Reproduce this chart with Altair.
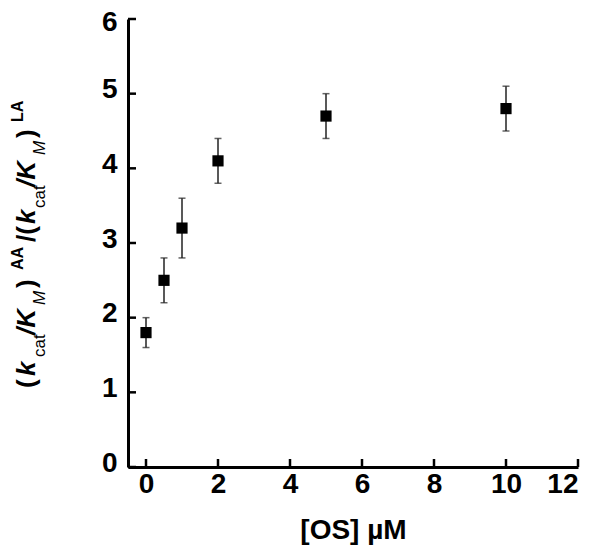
import altair as alt
import pandas as pd

# data
conc = [0, 0.5, 1, 2, 5, 10]
ratio = [1.8, 2.5, 3.2, 4.1, 4.7, 4.8]
err = [0.2, 0.3, 0.4, 0.3, 0.3, 0.3]
x_ticks = [0, 2, 4, 6, 8, 10, 12]
y_ticks = [0, 1, 2, 3, 4, 5, 6]
x_title = "[OS] µM"

W, H = 450, 448
FONT = "Liberation Sans"

df = pd.DataFrame({"x": conc, "y": ratio, "e": err})
df["lo"] = df["y"] - df["e"]
df["hi"] = df["y"] + df["e"]

xs = alt.Scale(domain=[-0.5, 12], nice=False, zero=False)
ys = alt.Scale(domain=[0, 6], nice=False, zero=False)

xaxis = alt.Axis(values=x_ticks, format="d", title=x_title, grid=False, ticks=False,
                 domainColor="black", domainWidth=3, labelFont=FONT, labelFontSize=28,
                 labelFontWeight="bold", labelColor="black", labelPadding=3,
                 titleFont=FONT, titleFontSize=28, titleFontWeight="bold", titleColor="black",
                 titleY=71, titleBaseline="alphabetic")
yaxis = alt.Axis(values=y_ticks, format="d", title=None, grid=False, ticks=False,
                 domainColor="black", domainWidth=3, labelFont=FONT, labelFontSize=28,
                 labelFontWeight="bold", labelColor="black", labelPadding=11,
                 labelBaseline="middle",
                 labelOffset={"condition": {"test": "datum.value == 6", "value": 3}, "value": -4})

base = alt.Chart(df)
bars = base.mark_rule(color="#222", strokeWidth=1.5).encode(
    x=alt.X("x:Q", scale=xs, axis=xaxis),
    y=alt.Y("lo:Q", scale=ys, axis=yaxis),
    y2="hi:Q",
)
cap_lo = base.mark_tick(color="#222", orient="horizontal", size=7, thickness=1.5).encode(
    x=alt.X("x:Q", scale=xs), y=alt.Y("lo:Q", scale=ys))
cap_hi = base.mark_tick(color="#222", orient="horizontal", size=7, thickness=1.5).encode(
    x=alt.X("x:Q", scale=xs), y=alt.Y("hi:Q", scale=ys))
pts = base.mark_square(color="black", size=125, opacity=1).encode(
    x=alt.X("x:Q", scale=xs), y=alt.Y("y:Q", scale=ys))

xt = alt.Chart(pd.DataFrame({"t": x_ticks})).mark_rule(color="black", strokeWidth=2.5).encode(
    x=alt.X("t:Q", scale=xs), y=alt.value(H), y2=alt.value(H - 8))
yt = alt.Chart(pd.DataFrame({"t": y_ticks})).mark_rule(color="black", strokeWidth=2.5).encode(
    y=alt.Y("t:Q", scale=ys), x=alt.value(0), x2=alt.value(8))

# rotated y-axis title built from styled pieces
one = alt.Data(values=[{}])
def piece(txt, xv, yv, size, weight="bold", style="normal"):
    return alt.Chart(one).mark_text(angle=270, align="left", baseline="alphabetic",
                                    font=FONT, fontSize=size, fontWeight=weight,
                                    fontStyle=style, color="black").encode(
        x=alt.value(xv), y=alt.value(yv), text=alt.value(txt))

MX, SUBX, SUPX = -93, -83, -105
pieces = [
    piece("(", MX, 369, 26),
    piece("k", MX, 357, 26, style="italic"),
    piece("cat", SUBX, 338, 17, weight="normal"),
    piece("/K", MX, 316, 26, style="italic"),
    piece("M", SUBX, 286, 17, weight="normal", style="italic"),
    piece(")", MX, 269, 26),
    piece("AA", SUPX, 251, 16),
    piece("/(", MX, 223, 26),
    piece("k", MX, 205, 26, style="italic"),
    piece("cat", SUBX, 189, 17, weight="normal"),
    piece("/K", MX, 168, 26, style="italic"),
    piece("M", SUBX, 136, 17, weight="normal", style="italic"),
    piece(")", MX, 119, 26),
    piece("LA", SUPX, 103, 16),
]

chart = alt.layer(bars, cap_lo, cap_hi, pts, xt, yt, *pieces).properties(
    width=W, height=H,
    autosize=alt.AutoSizeParams(type="none"),
    padding={"left": 120, "top": 11, "right": 14, "bottom": 79},
    background="white",
).configure_view(stroke=None)

chart.save("out.html", embed_options={"renderer": "svg", "actions": False})
